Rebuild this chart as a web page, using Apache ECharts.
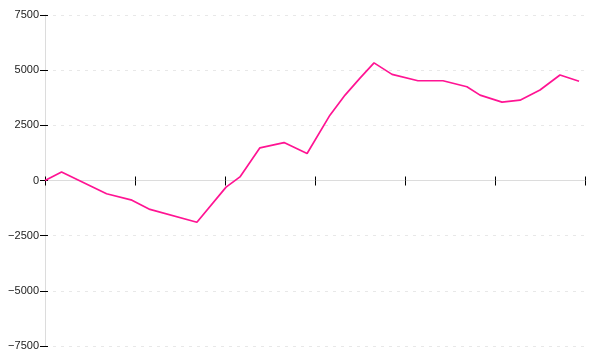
<!DOCTYPE html>
<html>
<head>
<meta charset="utf-8">
<script src="https://cdn.jsdelivr.net/npm/echarts@6/dist/echarts.min.js"></script>
<style>html,body{margin:0;padding:0;background:#fff}#c{width:600px;height:360px}</style>
</head>
<body>
<div id="c"></div>
<script>
const xValues = [0, 0.92, 3.42, 4.83, 5.83, 8.44, 10.06, 10.83, 11.94, 13.28, 14.56, 15.83, 16.67, 17.5, 18.28, 19.28, 20.72, 22.11, 23.44, 24.17, 25.39, 26.39, 27.5, 28.61, 29.67];
const yValues = [0, 390, -600, -890, -1310, -1890, -300, 163, 1480, 1720, 1225, 2960, 3870, 4640, 5330, 4810, 4520, 4520, 4250, 3870, 3550, 3640, 4100, 4780, 4500];
const yTicks = [-7500, -5000, -2500, 0, 2500, 5000, 7500];

const points = xValues.map((x, i) => [x, yValues[i]]);
const chart = echarts.init(document.getElementById('c'));
const gridBox = {left: 45, right: 15, top: 15, bottom: 14, containLabel: false};
const xBase = {type: 'value', min: 0, max: 30, interval: 5, axisLabel: {show: false}, splitLine: {show: false}};
const yBase = {type: 'value', min: yTicks[0], max: yTicks[yTicks.length - 1], interval: 2500};
chart.setOption({
  animation: false,
  grid: [Object.assign({}, gridBox), Object.assign({}, gridBox)],
  xAxis: [
    Object.assign({}, xBase, {
      gridIndex: 0,
      axisLine: {show: true, onZero: true, lineStyle: {color: '#dcdcdc', width: 1}},
      axisTick: {show: true, inside: false, length: 5, lineStyle: {color: '#000', width: 1}}
    }),
    Object.assign({}, xBase, {
      gridIndex: 1,
      axisLine: {show: false, onZero: true},
      axisTick: {show: true, inside: true, length: 4, lineStyle: {color: '#000', width: 1}}
    })
  ],
  yAxis: [
    Object.assign({}, yBase, {
      gridIndex: 0,
      axisLine: {show: true, lineStyle: {color: '#dcdcdc', width: 1}},
      axisTick: {show: true, length: 5, lineStyle: {color: '#000', width: 1}},
      axisLabel: {
        margin: 6, color: '#222', fontSize: 11, fontFamily: 'Liberation Sans, Arial, sans-serif',
        formatter: v => String(v).replace('-', '\u2212')
      },
      splitLine: {show: true, lineStyle: {color: '#e8e8e8', type: [3, 5], width: 1}}
    }),
    Object.assign({}, yBase, {
      gridIndex: 1,
      axisLine: {show: false},
      axisTick: {show: true, inside: true, length: 3, lineStyle: {color: '#000', width: 1}},
      axisLabel: {show: false},
      splitLine: {show: false}
    })
  ],
  series: [{
    type: 'line',
    data: points,
    xAxisIndex: 0,
    yAxisIndex: 0,
    symbol: 'none',
    smooth: false,
    lineStyle: {color: '#ff1493', width: 1.7}
  }]
});
</script>
</body>
</html>
